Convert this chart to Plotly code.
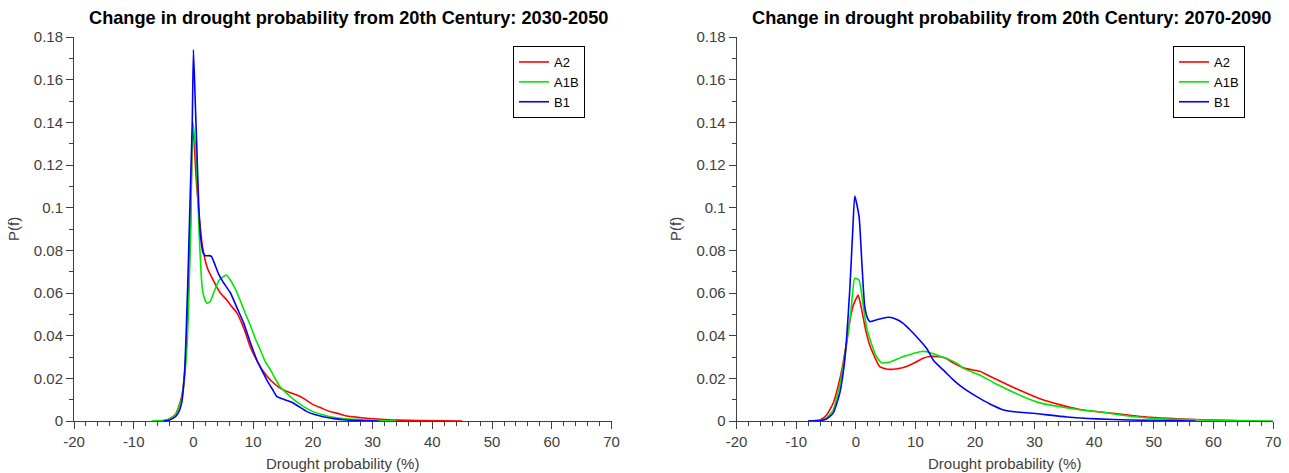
import plotly.graph_objects as go

# ---- 2030-2050 ----
a2_x_2030 = [-5, -4, -3, -2, -1.5, -1, -0.5, -0.1, 0.5, 1, 1.5, 2.3, 3.5, 4.5, 5.6, 6.2, 7.3, 8.5, 9.5, 10.5,
             11.5, 12.9, 14.5, 16, 17.3, 18.5, 20, 21.5, 22.9, 24.5, 25.7, 27.5, 29.5, 32, 34, 38, 45]
a2_y_2030 = [0, 0.001, 0.003, 0.011, 0.022, 0.045, 0.09, 0.139, 0.112, 0.095, 0.082, 0.072, 0.065, 0.06,
             0.0567, 0.0544, 0.0506, 0.043, 0.0348, 0.029, 0.024, 0.0192, 0.0154, 0.0135, 0.0122, 0.0105,
             0.0078, 0.006, 0.0044, 0.0033, 0.0023, 0.0017, 0.0012, 0.0007, 0.0004, 0.0002, 0]

a1b_x_2030 = [-7, -5, -4, -3, -2, -1.5, -1, -0.5, -0.1, 0.3, 0.6, 1, 1.45, 1.9, 2.3, 2.8, 3.5, 4.3, 5.5,
              6.2, 7, 7.8, 8.6, 9.5, 10.3, 11.2, 12, 12.9, 13.7, 14.5, 15.8, 17.3, 18.6, 20, 21.5, 22.9,
              25, 28.5, 31, 34]
a1b_y_2030 = [0, 0.0003, 0.001, 0.003, 0.01, 0.02, 0.04, 0.085, 0.14, 0.13, 0.115, 0.085, 0.063, 0.057,
              0.0552, 0.056, 0.061, 0.066, 0.0684, 0.066, 0.062, 0.0567, 0.051, 0.045, 0.039, 0.0333,
              0.028, 0.0239, 0.0198, 0.0161, 0.0125, 0.009, 0.0065, 0.0044, 0.003, 0.002, 0.0011,
              0.0005, 0.0002, 0]

b1_x_2030 = [-5, -4, -3, -2.5, -2, -1.5, -1, -0.5, -0.2, 0, 0.3, 0.6, 0.9, 1.2, 1.6, 2, 2.5, 3, 3.5, 4.2,
             5, 6.2, 7.3, 8.4, 9.5, 10.6, 11.5, 12.3, 13.2, 14, 15, 15.8, 16.7, 17.8, 19, 20.3, 21.7,
             23.5, 25.6, 28, 31]
b1_y_2030 = [0, 0.0005, 0.002, 0.004, 0.008, 0.022, 0.06, 0.11, 0.14, 0.174, 0.15, 0.125, 0.1, 0.0864,
             0.079, 0.0775, 0.0775, 0.0772, 0.074, 0.069, 0.065, 0.06, 0.053, 0.046, 0.037, 0.0286,
             0.0235, 0.0192, 0.015, 0.0114, 0.0103, 0.0095, 0.0084, 0.0065, 0.0044, 0.003, 0.002,
             0.0011, 0.0005, 0.0002, 0]

# ---- 2070-2090 ----
a2_x_2070 = [-8, -6, -4.9, -3.8, -3, -2.2, -1.5, -0.8, -0.45, 0, 0.4, 1, 1.7, 2.4, 2.9, 4, 5, 5.7, 7,
             8.5, 10, 11.3, 12.4, 13.6, 15, 16.5, 18, 19.5, 20.8, 22.5, 25.3, 28, 30.9, 34, 37.6, 41,
             46, 49.4, 54, 58, 62, 66]
a2_y_2070 = [0, 0.0005, 0.0028, 0.0083, 0.016, 0.026, 0.038, 0.05, 0.054, 0.057, 0.059, 0.052, 0.042,
             0.035, 0.0317, 0.0255, 0.0245, 0.0242, 0.0245, 0.0255, 0.0275, 0.0294, 0.0302, 0.0302,
             0.0295, 0.027, 0.025, 0.024, 0.0233, 0.021, 0.0172, 0.0138, 0.0104, 0.0078, 0.0054,
             0.0042, 0.0027, 0.0017, 0.001, 0.0006, 0.0003, 0]

a1b_x_2070 = [-8, -6, -4.9, -3.8, -3, -2.2, -1.5, -0.8, -0.17, 0.55, 1.2, 1.8, 2.6, 3.3, 4.3, 5.5, 6.5,
              7.95, 9.5, 10.75, 11.9, 13, 14, 15.5, 17, 18, 19.5, 20.8, 23, 25.3, 28, 30.9, 34, 37.6,
              41, 46, 49.4, 54, 58, 63, 70]
a1b_y_2070 = [0, 0.0003, 0.0015, 0.005, 0.013, 0.024, 0.037, 0.052, 0.0669, 0.066, 0.055, 0.044,
              0.0364, 0.031, 0.0273, 0.0275, 0.0285, 0.0302, 0.0315, 0.0325, 0.0325, 0.0315, 0.0305,
              0.029, 0.027, 0.0248, 0.023, 0.0216, 0.0182, 0.015, 0.0115, 0.0085, 0.0068, 0.0053,
              0.0043, 0.0022, 0.0013, 0.0008, 0.0005, 0.0002, 0]

b1_x_2070 = [-8, -6, -5, -3.8, -2.7, -2, -1.6, -1, -0.5, -0.17, 0.55, 1, 1.5, 2, 2.35, 3, 4, 5.4, 6.5,
             7.95, 9, 10.2, 11.9, 13, 13.8, 15, 16.4, 18, 20.3, 22.5, 24.8, 27, 29.8, 35.4, 40.4, 46,
             52, 57]
b1_y_2070 = [0, 0.0002, 0.0008, 0.0037, 0.013, 0.025, 0.0364, 0.062, 0.09, 0.1055, 0.0958, 0.075,
             0.0536, 0.048, 0.0466, 0.047, 0.0478, 0.0486, 0.048, 0.0458, 0.043, 0.0395, 0.034,
             0.0285, 0.0262, 0.023, 0.0192, 0.0155, 0.0114, 0.008, 0.0052, 0.0042, 0.0036, 0.0019,
             0.001, 0.0005, 0.0002, 0]

scenario_names = ["A2", "A1B", "B1"]
scenario_colors = ["#ff0000", "#00e800", "#0000ff"]
titles = ["Change in drought probability from 20th Century: 2030-2050",
          "Change in drought probability from 20th Century: 2070-2090"]
x_ticks = [-20, -10, 0, 10, 20, 30, 40, 50, 60, 70]
x_tick_labels = ["-20", "-10", "0", "10", "20", "30", "40", "50", "60", "70"]

panels = [
    [(a2_x_2030, a2_y_2030), (a1b_x_2030, a1b_y_2030), (b1_x_2030, b1_y_2030)],
    [(a2_x_2070, a2_y_2070), (a1b_x_2070, a1b_y_2070), (b1_x_2070, b1_y_2070)],
]

W, H = 1289, 473
x_domains = [[74 / W, 611.5 / W], [736.6 / W, 1273 / W]]
y_domain = [(H - 421) / H, (H - 37) / H]
title_centers = [348.5 / W, 1011 / W]

fig = go.Figure()
for p, series in enumerate(panels):
    xa = "x" if p == 0 else "x2"
    ya = "y" if p == 0 else "y2"
    lg = "legend" if p == 0 else "legend2"
    for (xs, ys), name, col in zip(series, scenario_names, scenario_colors):
        fig.add_trace(go.Scatter(x=xs, y=ys, mode="lines", name=name,
                                 line=dict(color=col, width=1.6, shape="spline", smoothing=0.5),
                                 xaxis=xa, yaxis=ya, legend=lg))

FONT = "Arial, Liberation Sans, sans-serif"
axis_font = dict(family=FONT, size=15, color="#404040")
axis_col = "#404040"
common_x = dict(range=[-20, 70], tickvals=x_ticks, ticktext=x_tick_labels, ticks="outside",
                ticklen=7, tickcolor=axis_col,
                showline=True, linecolor=axis_col, linewidth=1, showgrid=False, zeroline=False,
                tickfont=axis_font, automargin=False,
                minor=dict(dtick=2, tick0=0, ticks="outside", ticklen=4, tickcolor=axis_col,
                           showgrid=False))
common_y = dict(range=[0, 0.18], dtick=0.02, ticks="outside", ticklen=7, tickcolor=axis_col,
                showline=True, linecolor=axis_col, linewidth=1, showgrid=False, zeroline=False,
                tickfont=axis_font, automargin=False,
                minor=dict(dtick=0.01, ticks="outside", ticklen=4, tickcolor=axis_col,
                           showgrid=False))

legend_style = dict(xanchor="left", yanchor="top", bgcolor="white", bordercolor="black",
                    borderwidth=1, font=dict(family=FONT, size=13, color="black"),
                    tracegroupgap=0, itemwidth=30)

fig.update_layout(
    width=W, height=H,
    margin=dict(l=0, r=0, t=0, b=0, autoexpand=False),
    paper_bgcolor="white", plot_bgcolor="white",
    xaxis=dict(domain=x_domains[0], anchor="y", **common_x),
    yaxis=dict(domain=y_domain, anchor="x", **common_y),
    xaxis2=dict(domain=x_domains[1], anchor="y2", **common_x),
    yaxis2=dict(domain=y_domain, anchor="x2", **common_y),
    legend=dict(x=513 / W, y=1 - 46 / H, **legend_style),
    legend2=dict(x=1173 / W, y=1 - 46 / H, **legend_style),
    showlegend=True,
)

annotations = []
for p in range(2):
    cx = (x_domains[p][0] + x_domains[p][1]) / 2
    annotations.append(dict(text="<b>" + titles[p] + "</b>", x=title_centers[p], y=1 - 18 / H,
                            xref="paper", yref="paper", showarrow=False, xanchor="center",
                            yanchor="middle", font=dict(family=FONT, size=18.2, color="black")))
    annotations.append(dict(text="Drought probability (%)", x=cx, y=1 - 463 / H, xref="paper",
                            yref="paper", showarrow=False, xanchor="center", yanchor="middle",
                            font=axis_font))
    annotations.append(dict(text="P(f)", x=(14 if p == 0 else 676) / W, y=1 - 229 / H,
                            xref="paper", yref="paper", showarrow=False, textangle=-90,
                            xanchor="center", yanchor="middle", font=axis_font))
fig.update_layout(annotations=annotations)

fig.write_html("out.html")
